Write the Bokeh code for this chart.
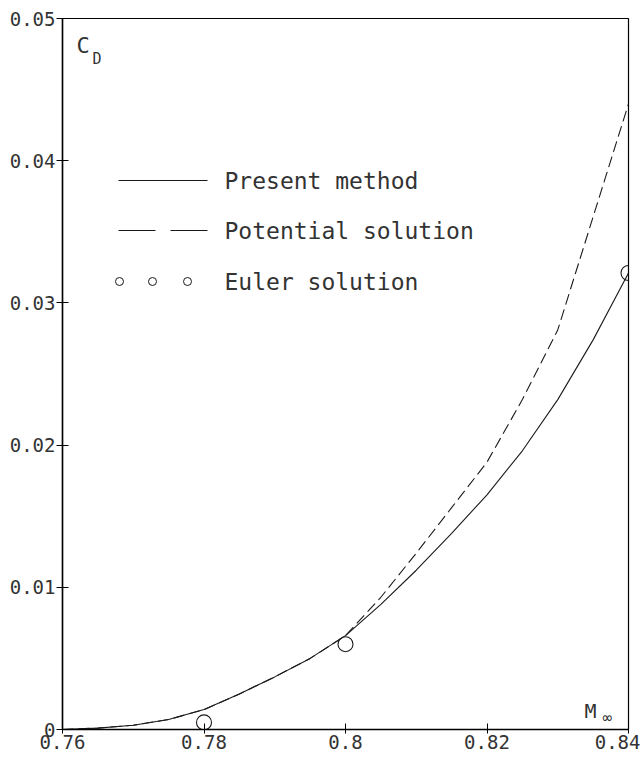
from bokeh.plotting import figure
from bokeh.models import Range1d, FixedTicker, Label
from bokeh.embed import file_html
from bokeh.resources import INLINE

# ---- data ----
mach_present = [0.76, 0.765, 0.77, 0.775, 0.78, 0.785, 0.79, 0.795, 0.80,
                0.805, 0.81, 0.815, 0.82, 0.825, 0.83, 0.835, 0.84]
cd_present = [0.0, 0.0001, 0.0003, 0.0007, 0.0014, 0.0025, 0.0037, 0.0050, 0.0066,
              0.0088, 0.0112, 0.0138, 0.0165, 0.0196, 0.0232, 0.0274, 0.0321]

mach_potential = [0.76, 0.765, 0.77, 0.775, 0.78, 0.785, 0.79, 0.795, 0.80,
                  0.805, 0.81, 0.815, 0.82, 0.825, 0.83, 0.84]
cd_potential = [0.0, 0.0001, 0.0003, 0.0007, 0.0014, 0.0025, 0.0037, 0.0050, 0.0066,
                0.0093, 0.0124, 0.0156, 0.0188, 0.0232, 0.0281, 0.0440]

mach_euler = [0.78, 0.80, 0.84]
cd_euler = [0.0005, 0.0060, 0.0321]

x_ticks = [0.76, 0.78, 0.80, 0.82, 0.84]
x_tick_labels = ["0.76", "0.78", "0.8", "0.82", "0.84"]
y_ticks = [0.0, 0.01, 0.02, 0.03, 0.04, 0.05]
y_tick_labels = ["0", "0.01", "0.02", "0.03", "0.04", "0.05"]

series_names = ["Present method", "Potential solution", "Euler solution"]

FONT = "DejaVu Sans Mono"
INK = "#1a1a1a"
TXT = "#333333"

p = figure(width=640, height=760, output_backend="svg", toolbar_location=None,
           x_range=Range1d(0.76, 0.84), y_range=Range1d(0.0, 0.05),
           min_border_left=62, min_border_right=12, min_border_top=18,
           min_border_bottom=31)
p.background_fill_color = "white"
p.border_fill_color = "white"
p.outline_line_color = "black"
p.outline_line_width = 1.2
p.xgrid.visible = False
p.ygrid.visible = False

for ax in (p.xaxis[0], p.yaxis[0]):
    ax.axis_line_color = "black"
    ax.axis_line_width = 1.5
    ax.major_tick_line_color = "black"
    ax.minor_tick_line_color = None
    ax.major_label_text_font = FONT
    ax.major_label_text_font_size = "19px"
    ax.major_label_text_color = TXT
    ax.major_tick_in = 6
    ax.major_tick_out = 6

p.xaxis.ticker = FixedTicker(ticks=x_ticks)
p.xaxis.major_label_overrides = {t: s for t, s in zip(x_ticks, x_tick_labels)}
p.xaxis.major_label_standoff = 1
p.xaxis.major_tick_out = 4
p.yaxis.ticker = FixedTicker(ticks=y_ticks)
p.yaxis.major_label_overrides = {t: s for t, s in zip(y_ticks, y_tick_labels)}
p.yaxis.major_label_standoff = 1

# ---- curves ----
p.line(mach_present, cd_present, line_color=INK, line_width=1.1)
p.line(mach_potential, cd_potential, line_color=INK, line_width=1.1, line_dash="11 5")
p.scatter(mach_euler, cd_euler, marker="circle", size=15, fill_color=None,
          line_color=INK, line_width=1.1)

# ---- axis titles inside the frame (screen units are frame-relative) ----
p.add_layout(Label(x=14, y=684, x_units="screen", y_units="screen", text="C",
                   text_font=FONT, text_font_size="22px", text_color=TXT,
                   text_baseline="middle"))
p.add_layout(Label(x=30, y=671, x_units="screen", y_units="screen", text="D",
                   text_font=FONT, text_font_size="15px", text_color=TXT,
                   text_baseline="middle"))
p.add_layout(Label(x=522, y=19, x_units="screen", y_units="screen", text="M",
                   text_font=FONT, text_font_size="20px", text_color=TXT,
                   text_baseline="middle"))
p.add_layout(Label(x=540, y=12, x_units="screen", y_units="screen", text="\u221e",
                   text_font=FONT, text_font_size="16px", text_color=TXT,
                   text_baseline="middle"))

# ---- hand-drawn legend (page pixel positions converted to data) ----
xr0, xr1, yr0, yr1 = 0.76, 0.84, 0.0, 0.05
fx0, fy0, fw, fh = 62, 18, 566, 711   # frame in page pixels
def dx(px):
    return xr0 + (px - fx0) / fw * (xr1 - xr0)
def dy(py):
    return yr1 - (py - fy0) / fh * (yr1 - yr0)

rows_py = [180, 230, 281]
p.line([dx(118), dx(207)], [dy(rows_py[0])] * 2, line_color=INK, line_width=1.1)
p.line([dx(118), dx(155)], [dy(rows_py[1])] * 2, line_color=INK, line_width=1.1)
p.line([dx(170), dx(207)], [dy(rows_py[1])] * 2, line_color=INK, line_width=1.1)
p.scatter([dx(119), dx(152), dx(187)], [dy(rows_py[2])] * 3, marker="circle", size=8,
          fill_color=None, line_color=INK, line_width=1.0)
for name, py in zip(series_names, rows_py):
    p.add_layout(Label(x=dx(224), y=dy(py), text=name, text_font=FONT,
                       text_font_size="23px", text_color=TXT,
                       text_baseline="middle"))

open("out.html", "w").write(file_html(p, INLINE))
